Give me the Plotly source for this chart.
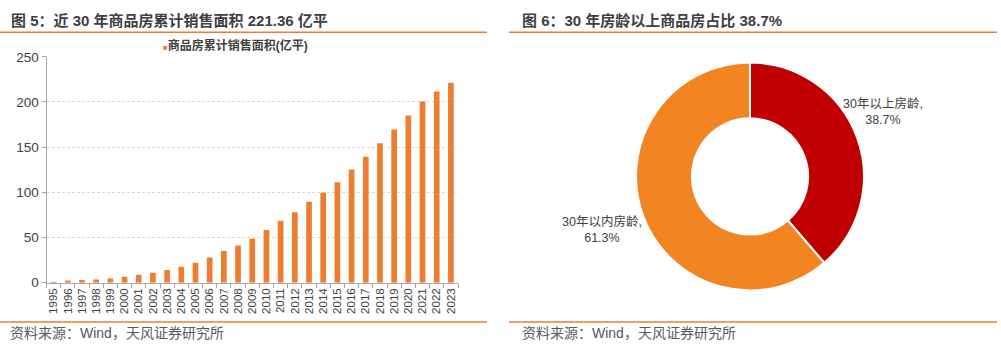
import plotly.graph_objects as go

W, H = 1001, 352

years = [str(y) for y in range(1995, 2024)]
area = [1.0, 2.5, 3.0, 3.6, 4.6, 6.7, 8.8, 10.9, 14.1, 17.7, 22.2, 27.9, 35.0, 41.3, 48.7,
        58.3, 68.5, 78.0, 89.6, 99.6, 111.2, 125.3, 139.5, 154.3, 169.5, 185.0, 200.6, 211.5, 221.36]
bar_name = "商品房累计销售面积(亿平)"

pie_labels = ["30年以上房龄", "30年以内房龄"]
pie_values = [38.7, 61.3]
pie_colors = ["#C00000", "#F28522"]

FONT = "Liberation Sans, Arial, Noto Sans CJK SC, sans-serif"
TXT = "#404040"
ORANGE = "#ED7D31"
LINE = "#ED7D31"


def px(x):
    return x / W


def py(y):
    return 1 - y / H


fig = go.Figure()

fig.add_trace(go.Bar(
    x=years, y=area, name=bar_name, marker=dict(color=ORANGE, line=dict(width=0)),
    width=0.4, showlegend=False, xaxis="x", yaxis="y",
))

fig.add_trace(go.Pie(
    labels=pie_labels, values=pie_values, sort=False, direction="clockwise", rotation=0,
    hole=0.51, marker=dict(colors=pie_colors, line=dict(color="white", width=2)),
    textinfo="none", hoverinfo="label+percent", showlegend=False,
    domain=dict(x=[px(631), px(869)], y=[py(296), py(58)]),
))

fig.update_layout(
    width=W, height=H, autosize=False,
    margin=dict(l=0, r=0, t=0, b=0),
    paper_bgcolor="white", plot_bgcolor="white",
    font=dict(family=FONT, color=TXT, size=13),
    xaxis=dict(
        domain=[px(46.5), px(458)], type="category", range=[-0.5, 28.5],
        showline=True, linecolor="#A6A6A6", linewidth=1,
        ticks="outside", ticklen=4, tickcolor="#A6A6A6", tickson="boundaries",
        tickangle=-90, tickfont=dict(size=11.5, color=TXT, family=FONT),
        showgrid=False, fixedrange=True,
    ),
    yaxis=dict(
        domain=[py(288), py(52)], range=[0, 250], dtick=50,
        showline=True, linecolor="#A6A6A6", linewidth=1,
        ticks="outside", ticklen=4, tickcolor="#A6A6A6",
        tickfont=dict(size=13.5, color=TXT, family=FONT),
        showgrid=True, gridcolor="#D9D9D9", griddash="3px,2px", gridwidth=1,
        zeroline=False, fixedrange=True,
    ),
)

shapes = []
for x0, x1 in [(0, 487), (509, 997)]:
    for yy in (26.5, 329):
        shapes.append(dict(type="line", xref="paper", yref="paper",
                           x0=px(x0), x1=px(x1), y0=py(yy), y1=py(yy),
                           line=dict(color=LINE, width=1.5)))
fig.update_layout(shapes=shapes)

ann = []
ann.append(dict(text="<b>图 5：近 30 年商品房累计销售面积 221.36 亿平</b>", x=px(9), y=py(14.5),
                font=dict(size=15, color=TXT)))
ann.append(dict(text="<b>图 6：30 年房龄以上商品房占比 38.7%</b>", x=px(520), y=py(14.5),
                font=dict(size=15, color=TXT)))
ann.append(dict(text="资料来源：Wind，天风证券研究所", x=px(8), y=py(341),
                font=dict(size=14, color="#595959")))
ann.append(dict(text="资料来源：Wind，天风证券研究所", x=px(520), y=py(341),
                font=dict(size=14, color="#595959")))
ann.append(dict(text="<span style='color:%s;font-size:8px'>■</span><b>%s</b>" % (ORANGE, bar_name),
                x=px(161), y=py(40.5), font=dict(size=12, color=TXT)))
ann.append(dict(text="%s,<br>%.1f%%" % (pie_labels[0], pie_values[0]), x=px(883), y=py(109),
                xanchor="center", align="center", font=dict(size=12.5, color=TXT)))
ann.append(dict(text="%s,<br>%.1f%%" % (pie_labels[1], pie_values[1]), x=px(602), y=py(232),
                xanchor="center", align="center", font=dict(size=12.5, color=TXT)))

for a in ann:
    a.setdefault("xanchor", "left")
    a.update(xref="paper", yref="paper", yanchor="middle", showarrow=False)
fig.update_layout(annotations=ann)

fig.write_html("out.html")
